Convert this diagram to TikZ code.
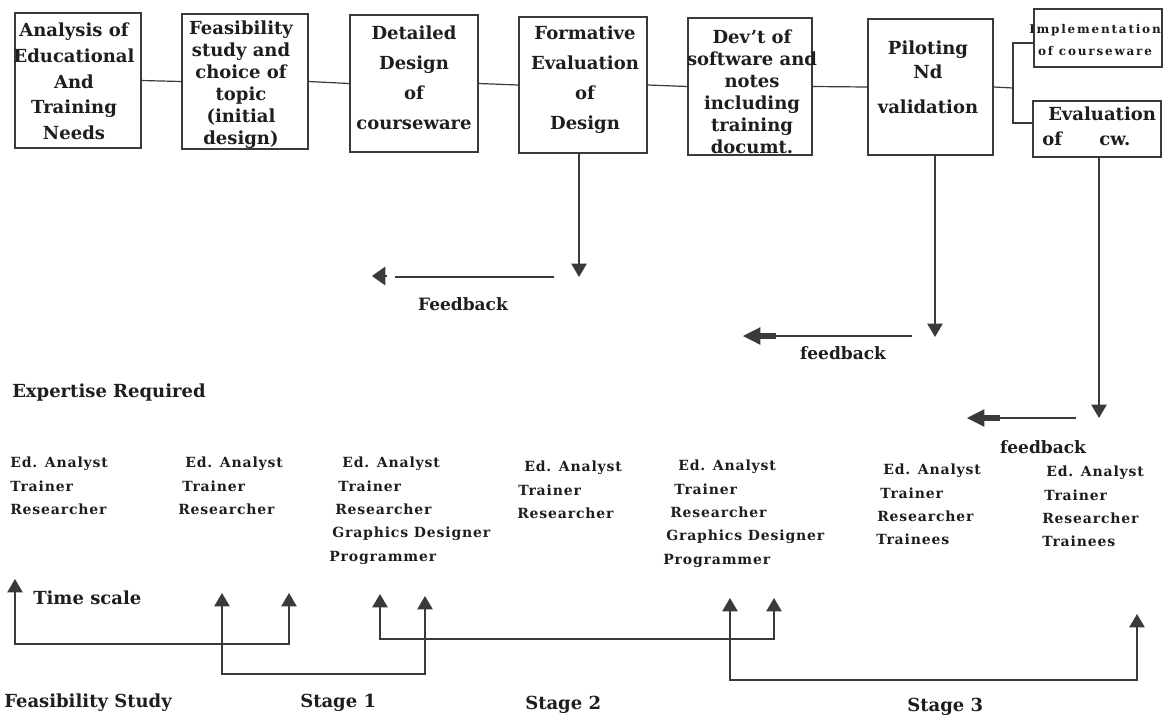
\documentclass[tikz,border=0pt]{standalone}
\usepackage{fontspec}
\setmainfont{DejaVu Serif}
\usetikzlibrary{arrows.meta}
\definecolor{ink}{HTML}{1E1E1E}
\definecolor{rule}{HTML}{3A3A3A}

\begin{document}
\begin{tikzpicture}[x=0.75pt,y=-0.75pt,
  >={Triangle[length=10pt,width=11.5pt]},
  box/.style={draw=rule,line width=1.1pt,inner sep=0pt},
  boxtxt/.style={font=\fontsize{13.5pt}{#1}\selectfont\bfseries,align=center,text=ink,inner sep=0pt},
  smalltxt/.style={font=\fontsize{9pt}{16.5pt}\selectfont\bfseries\addfontfeatures{LetterSpace=15},align=center,text=ink,inner sep=0pt},
  lbl/.style={font=\fontsize{13.5pt}{16pt}\selectfont\bfseries,text=ink,inner sep=0pt},
  fblbl/.style={font=\fontsize{12.75pt}{15pt}\selectfont\bfseries,text=ink,inner sep=0pt},
  crew/.style={font=\fontsize{10.5pt}{17.5pt}\selectfont\bfseries\addfontfeatures{LetterSpace=6},align=left,anchor=north west,text=ink,inner sep=0pt},
  conn/.style={draw=rule,line width=0.9pt},
  fbhead/.style={conn,-{Triangle[length=10pt,width=14pt]}},
  fbstub/.style={conn,-{Rectangle[length=12pt,width=5pt]Triangle[length=13pt,width=13pt]}}
]
\fill[white] (0,0) rectangle (1172,719);
\useasboundingbox (0,0) rectangle (1172,719);

% process boxes along the top
\node[box,minimum width=94.5pt,minimum height=101.25pt] (b1) at (78,80.5) {};
\node[box,minimum width=94.5pt,minimum height=101.25pt] (b2) at (245,81.5) {};
\node[box,minimum width=96pt,minimum height=102.75pt] (b3) at (414,83.5) {};
\node[box,minimum width=96pt,minimum height=102pt] (b4) at (583,85) {};
\node[box,minimum width=93pt,minimum height=102.75pt] (b5) at (750,86.5) {};
\node[box,minimum width=93.75pt,minimum height=102pt] (b6) at (930.5,87) {};
\node[box,minimum width=96pt,minimum height=43.5pt] (b7) at (1098,38) {};
\node[box,minimum width=96pt,minimum height=42pt] (b8) at (1097,129) {};

% box captions
\node[boxtxt=19.3pt] (t1) at (74,81.5) {Analysis of\\Educational\\And\\Training\\Needs};
\node[boxtxt=16.5pt] (t2) at (241,85) {Feasibility\\study and\\choice of\\topic\\(initial\\design)};
\node[boxtxt=22.5pt] (t3) at (414,78) {Detailed\\Design\\of\\courseware};
\node[boxtxt=22.5pt] (t4) at (585,80) {Formative\\Evaluation\\of\\Design};
\node[boxtxt=16.5pt] (t5) at (752,92) {Dev’t of\\software and\\notes\\including\\training\\documt.};
\node[boxtxt=18pt] (t6) at (928,77.5) {Piloting\\Nd\\[8pt]validation};
\node[smalltxt] (t7) at (1095,40) {Implementation\\of courseware};
\node[boxtxt=18.75pt,align=left,anchor=west] (t8) at (1042,126.5) {\hspace*{4.5pt}Evaluation\\of\hspace{28pt}cw.};

% chain of stages
\draw[conn] (b1.east) -- (b2.west);
\draw[conn] (b2.east) -- (b3.west);
\draw[conn] (b3.east) -- (b4.west);
\draw[conn] (b4.east) -- (b5.west);
\draw[conn] (b5.east) -- (b6.west);
\coordinate (br) at (1013,88);
\draw[conn] (b6.east) -- (br);
\draw[conn] (br) |- ([yshift=-3.75pt]b7.west);
\draw[conn] (br) |- ([yshift=4.5pt]b8.west);

% feedback loops
\coordinate (d1) at (579,277);
\draw[conn,->] (d1 |- b4.south) -- (d1);
\coordinate (f1a) at (554,277);
\coordinate (f1m) at (395,277);
\coordinate (f1h) at (387,276);
\coordinate (f1b) at (372,276);
\draw[conn] (f1a) -- (f1m);
\draw[fbhead] (f1h) -- (f1b);
\node[fblbl] (fb1) at (463,304) {Feedback};

\coordinate (d2) at (935,337);
\draw[conn,->] (d2 |- b6.south) -- (d2);
\coordinate (f2a) at (912,336);
\coordinate (f2b) at (743,336);
\draw[fbstub] (f2a) -- (f2b);
\node[fblbl] (fb2) at (843,353) {feedback};

\coordinate (d3) at (1099,418);
\draw[conn,->] (d3 |- b8.south) -- (d3);
\coordinate (f3a) at (1076,418);
\coordinate (f3b) at (967,418);
\draw[fbstub] (f3a) -- (f3b);
\node[fblbl] (fb3) at (1043,447) {feedback};

% expertise per stage
\node[lbl,anchor=west] (exp) at (12,393) {Expertise Required};
\node[crew] (c1) at (10,457) {Ed. Analyst\\Trainer\\Researcher};
\node[crew] (c2) at (178,457) {\hspace*{5.25pt}Ed. Analyst\\\hspace*{3pt}Trainer\\Researcher};
\node[crew] (c3) at (329,457) {\hspace*{9.75pt}Ed. Analyst\\\hspace*{6.75pt}Trainer\\\hspace*{4.5pt}Researcher\\\hspace*{2.25pt}Graphics Designer\\Programmer};
\node[crew] (c4) at (517,461) {\hspace*{5.25pt}Ed. Analyst\\\hspace*{0.75pt}Trainer\\Researcher};
\node[crew] (c5) at (663,460) {\hspace*{11.25pt}Ed. Analyst\\\hspace*{8.25pt}Trainer\\\hspace*{5.25pt}Researcher\\\hspace*{2.25pt}Graphics Designer\\Programmer};
\node[crew] (c6) at (876,464) {\hspace*{5.25pt}Ed. Analyst\\\hspace*{3pt}Trainer\\\hspace*{0.75pt}Researcher\\Trainees};
\node[crew] (c7) at (1042,466) {\hspace*{3pt}Ed. Analyst\\\hspace*{1.5pt}Trainer\\Researcher\\Trainees};

% time scale brackets
\node[lbl,anchor=west] (ts) at (33,598) {Time scale};
\coordinate (ta1) at (15,579);  \coordinate (ta2) at (289,593);  \coordinate (ya) at (0,644);
\coordinate (tb1) at (222,593); \coordinate (tb2) at (425,596);  \coordinate (yb) at (0,674);
\coordinate (tc1) at (380,594); \coordinate (tc2) at (774,598);  \coordinate (yc) at (0,639);
\coordinate (td1) at (730,598); \coordinate (td2) at (1137,614); \coordinate (yd) at (0,680);
\draw[conn,<->] (ta1) -- (ta1 |- ya) -| (ta2);
\draw[conn,<->] (tb1) -- (tb1 |- yb) -| (tb2);
\draw[conn,<->] (tc1) -- (tc1 |- yc) -| (tc2);
\draw[conn,<->] (td1) -- (td1 |- yd) -| (td2);

% stage names
\node[lbl,anchor=west] (s0) at (4,703) {Feasibility Study};
\node[lbl,anchor=west] (s1) at (300,703) {Stage 1};
\node[lbl,anchor=west] (s2) at (525,705) {Stage 2};
\node[lbl,anchor=west] (s3) at (907,707) {Stage 3};
\end{tikzpicture}
\end{document}
